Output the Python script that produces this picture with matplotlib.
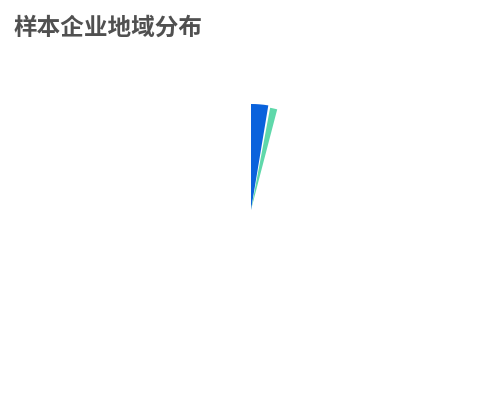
import numpy as np
import matplotlib.pyplot as plt

plt.rcParams['font.family'] = ['Noto Sans CJK SC', 'DejaVu Sans']

# region shares (degrees of the circle as visible) and rose radii
regions = ['地区A', '地区B']
shares = [9.4, 4.0]
radii = [106, 104]
gap = 1.2
colors = ['#0A62DC', '#5FD8AA']

fig = plt.figure(figsize=(5, 4), dpi=100)
ax = fig.add_axes([0.202, 0.1, 0.6, 0.75], projection='polar')
ax.set_theta_zero_location('N')
ax.set_theta_direction(-1)

starts = np.cumsum([0] + shares[:-1]) + np.arange(len(shares)) * gap
widths = np.radians(shares)
ax.bar(np.radians(starts), radii, width=widths, align='edge',
       color=colors, edgecolor='none', linewidth=0)

ax.set_ylim(0, 150)
ax.axis('off')

fig.text(0.028, 0.93, '样本企业地域分布', fontsize=17, fontweight='bold',
         color='#505050', va='center', ha='left')

fig.savefig('out.png', dpi=100)
